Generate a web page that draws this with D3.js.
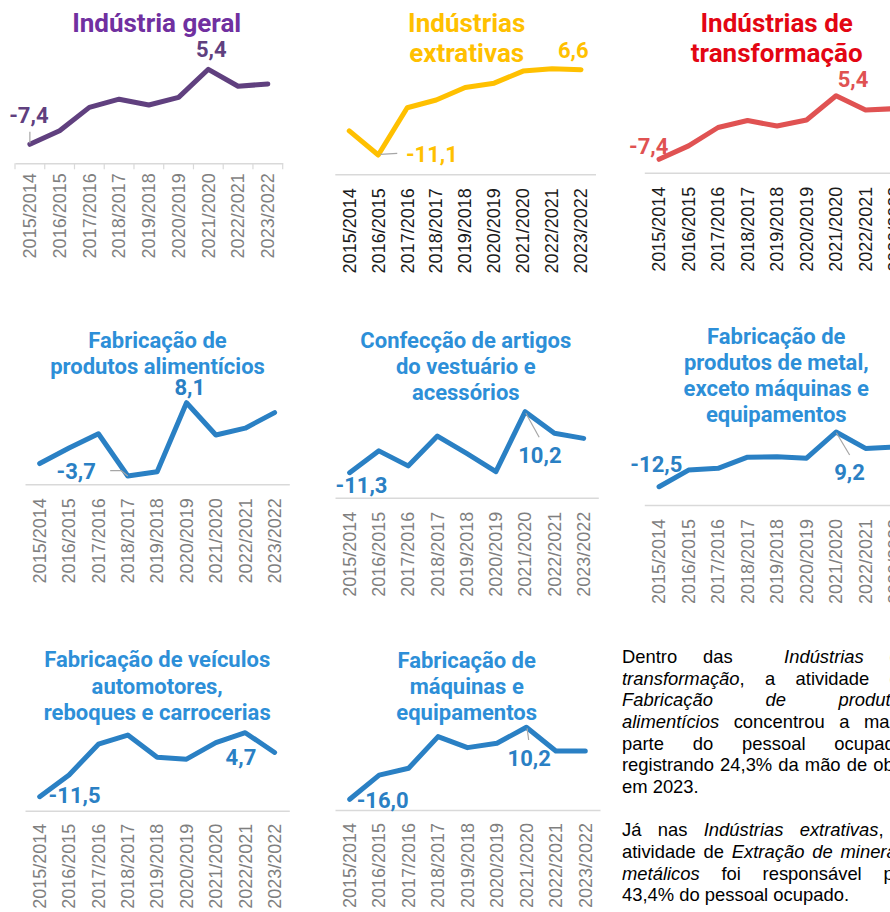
<!DOCTYPE html>
<html>
<head>
<meta charset="utf-8">
<script src="https://cdn.jsdelivr.net/npm/d3@7"></script>
<style>
  html, body { margin: 0; padding: 0; background: #fff; width: 890px; height: 912px; overflow: hidden; }
  #chart { position: absolute; left: 0; top: 0; }
  #nota { position: absolute; left: 622px; top: 646px; width: 288px;
          font-family: "Liberation Sans", Arial, sans-serif; font-size: 18.4px;
          line-height: 21.67px; color: #000; }
  #nota div { text-align: justify; text-align-last: justify; white-space: pre-wrap; }
  #nota div.last { text-align-last: left; }
  #nota div.gap { height: 21.67px; }
</style>
</head>
<body>
<svg id="chart" width="890" height="912"></svg>
<div id="nota"></div>
<script>
// Periods (year over previous year)
const periods = ["2015/2014", "2016/2015", "2017/2016", "2018/2017", "2019/2018",
                 "2020/2019", "2021/2020", "2022/2021", "2023/2022"];

// Variation of employed persons (%), by activity
const industriaGeral          = [-7.4, -5.1, -1.1, 0.3, -0.7, 0.6, 5.4, 2.5, 2.9];
const industriasExtrativas    = [-6.1, -11.1, -1.3, 0.3, 2.9, 3.8, 6.3, 6.8, 6.6];
const industriasTransformacao = [-7.4, -4.7, -1.0, 0.4, -0.7, 0.5, 5.4, 2.5, 2.8];
const produtosAlimenticios    = [-1.7, 0.8, 3.1, -3.7, -3.0, 8.1, 2.9, 4.0, 6.5];
const artigosVestuario        = [-11.3, -3.6, -8.9, 1.6, -4.5, -10.9, 10.2, 2.6, 0.8];
const produtosMetal           = [-12.5, -5.9, -5.2, -0.8, -0.6, -1.2, 9.2, 2.7, 3.2];
const veiculosAutomotores     = [-11.5, -6.0, 1.8, 4.1, -1.5, -2.0, 2.2, 4.7, -0.3];
const maquinasEquipamentos    = [-16.0, -7.2, -4.7, 6.8, 2.8, 4.4, 10.2, 1.6, 1.6];

// Panel titles
const tituloGeral          = ["Indústria geral"];
const tituloExtrativas     = ["Indústrias", "extrativas"];
const tituloTransformacao  = ["Indústrias de", "transformação"];
const tituloAlimenticios   = ["Fabricação de", "produtos alimentícios"];
const tituloVestuario      = ["Confecção de artigos", "do vestuário e", "acessórios"];
const tituloMetal          = ["Fabricação de", "produtos de metal,", "exceto máquinas e", "equipamentos"];
const tituloVeiculos       = ["Fabricação de veículos", "automotores,", "reboques e carrocerias"];
const tituloMaquinas       = ["Fabricação de", "máquinas e", "equipamentos"];

// Indices of the labelled points in each series
const destaquesGeral          = [0, 6];
const destaquesExtrativas     = [1, 8];
const destaquesTransformacao  = [0, 6];
const destaquesAlimenticios   = [3, 5];
const destaquesVestuario      = [0, 6];
const destaquesMetal          = [0, 6];
const destaquesVeiculos       = [0, 7];
const destaquesMaquinas       = [0, 6];

const PURPLE_T = "#7030A0", PURPLE_L = "#60407F";
const GOLD = "#FFC000";
const RED_T = "#E30613", RED_L = "#E05252";
const BLUE_T = "#2D8FD8", BLUE_L = "#2A80C4";
const GREY_TICK = "#7F7F7F", BLACK_TICK = "#1A1A1A";

// Panel layout: plot box, title placement, label offsets relative to their point
const panels = [
  { values: industriaGeral, title: tituloGeral, marks: destaquesGeral,
    tColor: PURPLE_T, lColor: PURPLE_L, tickColor: GREY_TICK,
    x0: 15, x1: 282.7, yLow: 144.3, yHigh: 69.3, axisY: 163.3, ticks: true, tickGap: 10,
    tx: 156.7, ty: 31.7, tSize: 26, tLead: 30,
    lab: [ { dx: -1, dy: -21.6, a: "middle", leader: [[0, -12.6], [0, -1]] },
           { dx: 3, dy: -12.6, a: "middle" } ] },
  { values: industriasExtrativas, title: tituloExtrativas, marks: destaquesExtrativas,
    tColor: GOLD, lColor: GOLD, tickColor: BLACK_TICK,
    x0: 334.8, x1: 595.5, yLow: 155, yHigh: 68.7, axisY: 174.3, tickGap: 14,
    tx: 466.7, ty: 31.7, tSize: 26, tLead: 30,
    lab: [ { dx: 27.7, dy: 6.7, a: "start", leader: [[2, -0.7], [19, -1.7]] },
           { dx: -7.7, dy: -11.4, a: "middle" } ] },
  { values: industriasTransformacao, title: tituloTransformacao, marks: destaquesTransformacao,
    tColor: RED_T, lColor: RED_L, tickColor: BLACK_TICK,
    x0: 644.3, x1: 909.8, yLow: 159.3, yHigh: 95.7, axisY: 172.7, tickGap: 14,
    tx: 776.7, ty: 31.7, tSize: 26, tLead: 30,
    lab: [ { dx: -10.3, dy: -5.3, a: "middle" },
           { dx: 17, dy: -8.4, a: "middle" } ] },
  { values: produtosAlimenticios, title: tituloAlimenticios, marks: destaquesAlimenticios,
    tColor: BLUE_T, lColor: BLUE_L, tickColor: GREY_TICK,
    x0: 25, x1: 289.3, yLow: 476, yHigh: 402.7, axisY: 484.3, tickGap: 14,
    tx: 157.5, ty: 348.3, tSize: 22, tLead: 26,
    lab: [ { dx: -51.6, dy: 3.3, a: "middle", leader: [[-17.6, -5.3], [-6.6, -5.3], [0, 0]] },
           { dx: 3.3, dy: -7.7, a: "middle" } ] },
  { values: artigosVestuario, title: tituloVestuario, marks: destaquesVestuario,
    tColor: BLUE_T, lColor: BLUE_L, tickColor: GREY_TICK,
    x0: 335, x1: 598.3, yLow: 472.7, yHigh: 411.7, axisY: 497.7, tickGap: 14,
    tx: 465.8, ty: 348.3, tSize: 22, tLead: 26,
    lab: [ { dx: 11.9, dy: 20.6, a: "middle" },
           { dx: 14.7, dy: 51, a: "middle", leader: [[0.7, 1.6], [14, 25.6]] } ] },
  { values: produtosMetal, title: tituloMetal, marks: destaquesMetal,
    tColor: BLUE_T, lColor: BLUE_L, tickColor: GREY_TICK,
    x0: 644.3, x1: 909.8, yLow: 486.7, yHigh: 432, axisY: 505, tickGap: 14,
    tx: 776.3, ty: 343.5, tSize: 22, tLead: 26,
    lab: [ { dx: -2.7, dy: -15, a: "middle" },
           { dx: 13.5, dy: 48, a: "middle", leader: [[0.3, 0.7], [13.6, 23]] } ] },
  { values: veiculosAutomotores, title: tituloVeiculos, marks: destaquesVeiculos,
    tColor: BLUE_T, lColor: BLUE_L, tickColor: GREY_TICK,
    x0: 25, x1: 289.3, yLow: 796.7, yHigh: 732.7, axisY: 810.7, tickGap: 13,
    tx: 157.2, ty: 667.3, tSize: 22, tLead: 26.3,
    lab: [ { dx: 34.9, dy: 6, a: "middle" },
           { dx: -4.3, dy: 32.3, a: "middle" } ] },
  { values: maquinasEquipamentos, title: tituloMaquinas, marks: destaquesMaquinas,
    tColor: BLUE_T, lColor: BLUE_L, tickColor: GREY_TICK,
    x0: 335, x1: 600, yLow: 799.3, yHigh: 727.3, axisY: 810, tickGap: 13,
    tx: 466.7, ty: 668.3, tSize: 22, tLead: 26,
    lab: [ { dx: 32.9, dy: 8.4, a: "middle" },
           { dx: 2.8, dy: 38.7, a: "middle", leader: [[0.7, 1], [2.3, 12.7]] } ] }
];

const svg = d3.select("#chart");
const fmt = v => d3.format(".1f")(v).replace(".", ",").replace("−", "-");
const TITLE_FONT = "Roboto, 'Liberation Sans', Arial, sans-serif";
const TICK_FONT = "'Liberation Sans', Arial, sans-serif";

panels.forEach(p => {
  const g = svg.append("g");
  const x = d3.scaleBand().domain(periods).range([p.x0, p.x1]);
  const [lo, hi] = d3.extent(p.values);
  const y = d3.scaleLinear().domain([lo, hi]).range([p.yLow, p.yHigh]);
  const cx = d => x(d) + x.bandwidth() / 2;

  // Title
  const t = g.append("text")
    .attr("x", p.tx).attr("y", p.ty)
    .attr("text-anchor", "middle")
    .attr("font-family", TITLE_FONT).attr("font-weight", 700)
    .attr("font-size", p.tSize).attr("fill", p.tColor);
  p.title.forEach((line, i) => {
    t.append("tspan").attr("x", p.tx).attr("y", p.ty + i * p.tLead).text(line);
  });

  // Category axis
  const axis = d3.axisBottom(x).tickSize(0).tickFormat("");
  const ag = g.append("g").attr("transform", `translate(0,${p.axisY})`).call(axis);
  ag.select(".domain").attr("stroke", "#D9D9D9").attr("stroke-width", 1.5);
  if (p.ticks) {
    const edges = periods.map(d => x(d)).concat([p.x1]);
    ag.selectAll("line.edge").data(edges).join("line").attr("class", "edge")
      .attr("x1", d => d).attr("x2", d => d).attr("y1", 0).attr("y2", 6)
      .attr("stroke", "#D9D9D9").attr("stroke-width", 1.2);
  }
  g.selectAll("text.period").data(periods).join("text").attr("class", "period")
    .attr("transform", d => `translate(${cx(d)},${p.axisY + p.tickGap}) rotate(-90)`)
    .attr("dy", "0.35em")
    .attr("text-anchor", "end")
    .attr("font-family", TICK_FONT).attr("font-size", 18)
    .attr("fill", p.tickColor)
    .text(d => d);

  // Series line
  const line = d3.line().x((d, i) => cx(periods[i])).y(d => y(d));
  g.append("path").datum(p.values)
    .attr("d", line).attr("fill", "none")
    .attr("stroke", p.lColor).attr("stroke-width", 5)
    .attr("stroke-linejoin", "round").attr("stroke-linecap", "round");

  // Value labels and leader lines
  p.marks.forEach((idx, k) => {
    const L = p.lab[k];
    const px = cx(periods[idx]), py = y(p.values[idx]);
    if (L.leader) {
      g.append("path")
        .attr("d", d3.line()(L.leader.map(([a, b]) => [px + a, py + b])))
        .attr("fill", "none").attr("stroke", "#A6A6A6").attr("stroke-width", 1.2);
    }
    g.append("text")
      .attr("x", px + L.dx).attr("y", py + L.dy)
      .attr("text-anchor", L.a)
      .attr("font-family", TITLE_FONT).attr("font-weight", 700)
      .attr("font-size", 22).attr("fill", p.lColor)
      .text(fmt(p.values[idx]));
  });
});

// Commentary block
const notaLinhas = [
  { html: "Dentro das  <i>Indústrias</i> de" },
  { html: "<i>transformação</i>, a atividade de" },
  { html: "<i>Fabricação de produtos</i>" },
  { html: "<i>alimentícios</i> concentrou a maior" },
  { html: "parte do pessoal ocupado," },
  { html: "registrando 24,3% da mão de obra" },
  { html: "em 2023.", last: true },
  { gap: true },
  { html: "Já nas <i>Indústrias extrativas</i>, a" },
  { html: "atividade de <i>Extração de minerais</i>" },
  { html: "<i>metálicos</i> foi responsável por" },
  { html: "43,4% do pessoal ocupado.", last: true }
];
d3.select("#nota").selectAll("div").data(notaLinhas).join("div")
  .attr("class", d => d.gap ? "gap" : (d.last ? "last" : null))
  .html(d => d.html || "");
</script>
</body>
</html>
